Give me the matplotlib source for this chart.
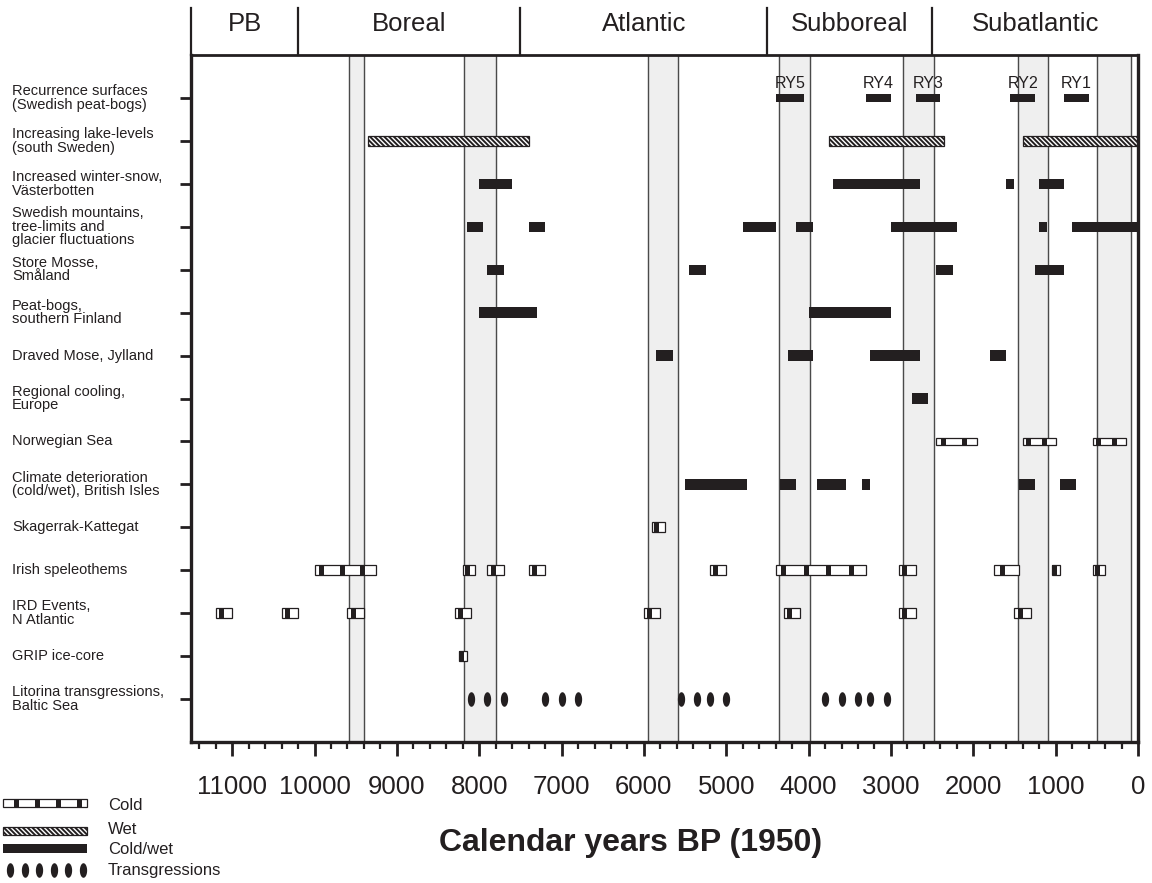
import matplotlib
matplotlib.use('Agg')
import matplotlib.pyplot as plt
import numpy as np
from matplotlib.transforms import blended_transform_factory

INK = '#231f20'
BAND = '#efefef'

plt.rcParams['font.family'] = ['Liberation Sans', 'DejaVu Sans']
plt.rcParams['hatch.linewidth'] = 1.4
plt.rcParams['hatch.color'] = INK

# chronozones along the top (years BP)
periods = ['PB', 'Boreal', 'Atlantic', 'Subboreal', 'Subatlantic']
period_bounds = [11500, 10200, 7500, 4500, 2500, 0]

# shaded cold phases (start, end)
cool_bands = [(9580, 9400), (8180, 7800), (5950, 5580), (4360, 3985),
              (2850, 2480), (1460, 1090), (500, 80)]

row_labels = [
    'Recurrence surfaces\n(Swedish peat-bogs)',
    'Increasing lake-levels\n(south Sweden)',
    'Increased winter-snow,\nVästerbotten',
    'Swedish mountains,\ntree-limits and\nglacier fluctuations',
    'Store Mosse,\nSmåland',
    'Peat-bogs,\nsouthern Finland',
    'Draved Mose, Jylland',
    'Regional cooling,\nEurope',
    'Norwegian Sea',
    'Climate deterioration\n(cold/wet), British Isles',
    'Skagerrak-Kattegat',
    'Irish speleothems',
    'IRD Events,\nN Atlantic',
    'GRIP ice-core',
    'Litorina transgressions,\nBaltic Sea',
]

# recurrence surfaces RY5..RY1 (row 1)
ry_names = ['RY5', 'RY4', 'RY3', 'RY2', 'RY1']
ry_start = [4400, 3300, 2700, 1550, 900]
ry_end = [4050, 3000, 2400, 1250, 600]

# cold/wet events: (row, start, end)
coldwet = [
    (3, 8000, 7600), (3, 3700, 2650), (3, 1600, 1500), (3, 1200, 900),
    (4, 8150, 7950), (4, 7400, 7200), (4, 4800, 4400), (4, 4150, 3950),
    (4, 3000, 2200), (4, 1200, 1100), (4, 800, 0),
    (5, 7900, 7700), (5, 5450, 5250), (5, 2450, 2250), (5, 1250, 900),
    (6, 8000, 7300), (6, 4000, 3000),
    (7, 5850, 5650), (7, 4250, 3950), (7, 3250, 2650), (7, 1800, 1600),
    (8, 2750, 2550),
    (10, 5500, 4750), (10, 4350, 4150), (10, 3900, 3550), (10, 3350, 3250),
    (10, 1450, 1250), (10, 950, 750),
]

# wet events: (row, start, end)
wet = [(2, 9350, 7400), (2, 3750, 2350), (2, 1400, 0)]

# cold events: (row, start, end)
cold = [
    (9, 2450, 1950), (9, 1400, 1000), (9, 550, 150),
    (11, 5900, 5750),
    (12, 10000, 9250), (12, 8200, 8050), (12, 7900, 7700), (12, 7400, 7200),
    (12, 5200, 5000), (12, 4400, 3300), (12, 2900, 2700), (12, 1750, 1450),
    (12, 1050, 950), (12, 550, 400),
    (13, 11200, 11000), (13, 10400, 10200), (13, 9600, 9400), (13, 8300, 8100),
    (13, 6000, 5800), (13, 4300, 4100), (13, 2900, 2700), (13, 1500, 1300),
    (14, 8250, 8150),
]

# Litorina transgressions (row 15)
transgressions = [8100, 7900, 7700, 7200, 7000, 6800,
                  5550, 5350, 5200, 5000,
                  3800, 3600, 3400, 3250, 3050]

legend_names = ['Cold', 'Wet', 'Cold/wet', 'Transgressions']

bar_h = {1: 0.19, 9: 0.15}
t = np.linspace(0, 2 * np.pi, 40)
dot_marker = list(zip(0.5 * np.cos(t), np.sin(t)))


def draw_coldwet(ax, y, start, end, h):
    ax.barh(y, start - end, left=end, height=h, color=INK, linewidth=0)


def draw_wet(ax, y, start, end, h):
    ax.barh(y, start - end, left=end, height=h, color='white',
            edgecolor=INK, linewidth=0.9, hatch='\\' * 7)


def draw_cold(ax, y, start, end, h, block, spacing=250):
    ax.barh(y, start - end, left=end, height=h, color='white',
            edgecolor=INK, linewidth=0.9)
    w = start - end
    n = max(1, round(w / spacing))
    step = w / n
    for i in range(n):
        c = start - step * (i + 0.35)
        ax.barh(y, block, left=c - block / 2, height=h, color=INK, linewidth=0)


fig = plt.figure(figsize=(11.52, 8.83), dpi=100)
ax = fig.add_axes([191 / 1152, 1 - 742 / 883, (1138 - 191) / 1152, (742 - 55) / 883])
ax.set_xlim(11500, 0)
ax.set_ylim(16, 0)

for a, b in cool_bands:
    ax.axvspan(b, a, color=BAND, zorder=0)
    for edge in (a, b):
        ax.axvline(edge, color='#4a4a4a', lw=1.0, zorder=0.5)

for name, s, e in zip(ry_names, ry_start, ry_end):
    draw_coldwet(ax, 1, s, e, bar_h[1])
    ax.text((s + e) / 2, 0.67, name, ha='center', va='center',
            fontsize=11.5, color=INK)

for row, s, e in coldwet:
    draw_coldwet(ax, row, s, e, bar_h.get(row, 0.24))
for row, s, e in wet:
    draw_wet(ax, row, s, e, bar_h.get(row, 0.22))
for row, s, e in cold:
    draw_cold(ax, row, s, e, bar_h.get(row, 0.24), 60)

ax.scatter(transgressions, [15] * len(transgressions), marker=dot_marker,
           s=110, color=INK, linewidths=0, zorder=3)

# axes styling
for side in ['left', 'right', 'top', 'bottom']:
    ax.spines[side].set_color(INK)
    ax.spines[side].set_linewidth(2.4)
ax.spines['top'].set_linewidth(2.0)

ax.set_xticks(np.arange(0, 11001, 1000))
ax.set_xticks(np.arange(0, 11401, 200), minor=True)
ax.tick_params(axis='x', which='major', length=10, width=2, color=INK,
               labelsize=18.5, labelcolor=INK, pad=14)
ax.tick_params(axis='x', which='minor', length=5, width=1.6, color=INK)
ax.set_yticks(range(1, 16))
ax.set_yticklabels([])
ax.tick_params(axis='y', length=8, width=2, color=INK)

# row labels on the left
lab_tr = blended_transform_factory(fig.transFigure, ax.transData)
for i, lab in enumerate(row_labels):
    ax.text(12 / 1152, i + 1, lab, transform=lab_tr, ha='left', va='center',
            fontsize=10.5, color=INK, linespacing=0.95)

# chronozone header
hdr_tr = blended_transform_factory(ax.transData, ax.transAxes)
for b in period_bounds[:-1]:
    ax.plot([b, b], [1, 1.068], transform=hdr_tr, color=INK, lw=1.6,
            clip_on=False)
for name, a, b in zip(periods, period_bounds[:-1], period_bounds[1:]):
    ax.text((a + b) / 2, 1.045, name, transform=hdr_tr, ha='center',
            va='center', fontsize=18.5, color=INK)

fig.text(631 / 1152, 1 - 843 / 883, 'Calendar years BP (1950)', ha='center',
         va='center', fontsize=23, fontweight='bold', color=INK)

# legend key in the lower left corner, pixel-like coordinates
lg = fig.add_axes([0, 0, 240 / 1152, 93 / 883])
lg.set_xlim(0, 240)
lg.set_ylim(93, 0)
lg.axis('off')
draw_cold(lg, 13, 87, 3, 8, 5, spacing=21)
draw_wet(lg, 41, 87, 3, 8)
draw_coldwet(lg, 58, 87, 3, 9)
lg.scatter(np.linspace(10, 83, 6), [80] * 6, marker=dot_marker, s=110,
           color=INK, linewidths=0)
for yy, name in zip([16, 39, 60, 81], legend_names):
    lg.text(108, yy, name, ha='left', va='center', fontsize=12, color=INK)

fig.savefig('out.png', dpi=100)
